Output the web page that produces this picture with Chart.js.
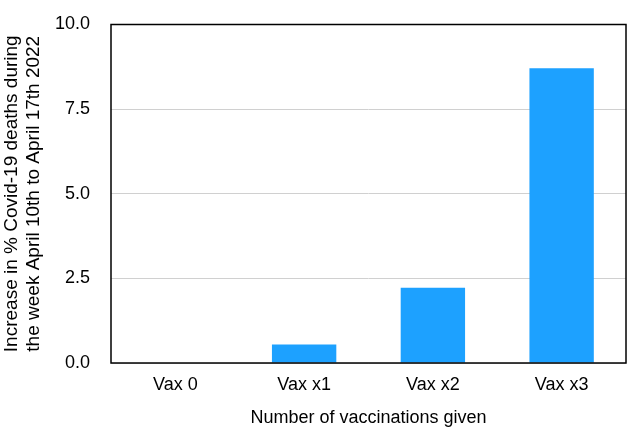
<!DOCTYPE html>
<html>
<head>
<meta charset="utf-8">
<script src="https://cdn.jsdelivr.net/npm/chart.js@4"></script>
<style>
  html, body { margin: 0; padding: 0; background: #fff; }
  #wrap { width: 640px; height: 434px; }
</style>
</head>
<body>
<div id="wrap"><canvas id="chart"></canvas></div>
<script>
const categories = ['Vax 0', 'Vax x1', 'Vax x2', 'Vax x3'];
const increases = [0, 0.55, 2.22, 8.71];
const yTicks = [0, 2.5, 5, 7.5, 10];

// box around plot area
const frame = {
  id: 'frame',
  afterDraw(chart) {
    const { ctx, chartArea: a } = chart;
    ctx.save();
    ctx.strokeStyle = '#000';
    ctx.lineWidth = 1.5;
    ctx.strokeRect(a.left, a.top, a.right - a.left, a.bottom - a.top);
    ctx.restore();
  }
};

Chart.defaults.font.family = '"Liberation Sans", Arial, Helvetica, sans-serif';
Chart.defaults.color = '#000';

new Chart(document.getElementById('chart'), {
  type: 'bar',
  data: {
    labels: categories,
    datasets: [{
      data: increases,
      backgroundColor: '#1da1ff',
      barPercentage: 0.5,
      categoryPercentage: 1.0
    }]
  },
  options: {
    responsive: true,
    maintainAspectRatio: false,
    animation: false,
    plugins: { legend: { display: false }, tooltip: { enabled: false } },
    layout: { padding: { top: 24.5, right: 14, left: 0, bottom: 0 } },
    scales: {
      x: {
        afterFit(scale) { scale.height = 71; },
        grid: { display: false },
        border: { display: false },
        ticks: { font: { size: 18 }, padding: 3 },
        title: { display: true, text: 'Number of vaccinations given', font: { size: 18 }, padding: { bottom: 5 } }
      },
      y: {
        min: 0,
        max: 10,
        afterFit(scale) {
          scale.width = 111;
          scale.paddingTop = 0;
          scale.paddingBottom = 0;
        },
        afterBuildTicks(scale) { scale.ticks = yTicks.map(v => ({ value: v })); },
        grid: { color: '#d0d0d0', drawTicks: false },
        border: { display: false },
        ticks: { font: { size: 18 }, padding: 21, callback: v => v.toFixed(1) },
        title: {
          display: true,
          text: ['Increase in % Covid-19 deaths during', 'the week April 10th to April 17th 2022'],
          font: { size: 19, lineHeight: 1.15 },
          padding: { top: 1, bottom: 0 }
        }
      }
    }
  },
  plugins: [frame]
});
</script>
</body>
</html>
